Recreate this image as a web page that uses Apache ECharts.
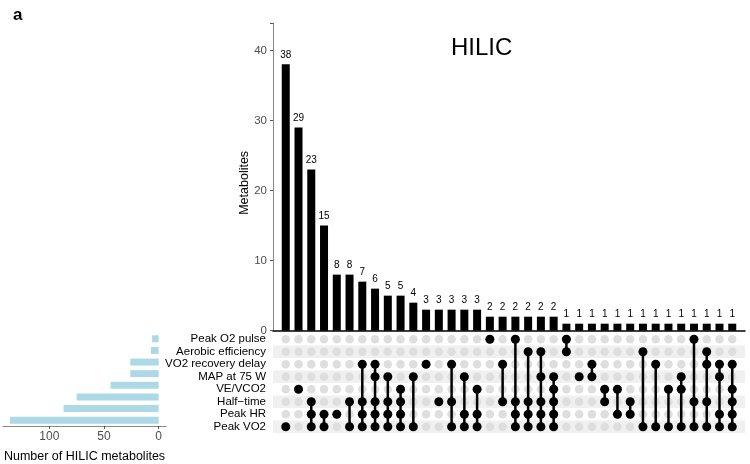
<!DOCTYPE html>
<html>
<head>
<meta charset="utf-8">
<script src="https://cdn.jsdelivr.net/npm/echarts@6/dist/echarts.min.js"></script>
<style>html,body{margin:0;padding:0;background:#fff;}#c{width:750px;height:464px;}</style>
</head>
<body>
<div id="c"></div>
<script>
// Sets (top to bottom in the matrix)
const sets = ['Peak O2 pulse', 'Aerobic efficiency', 'VO2 recovery delay', 'MAP at 75 W', 'VE/VCO2', 'Half\u2212time', 'Peak HR', 'Peak VO2'];
// Number of HILIC metabolites per set
const setSizes = [6, 7, 26, 26, 44, 75, 87, 136];
// Intersection sizes (bars, left to right)
const intersectionSizes = [38, 29, 23, 15, 8, 8, 7, 6, 5, 5, 4, 3, 3, 3, 3, 3, 2, 2, 2, 2, 2, 2, 1, 1, 1, 1, 1, 1, 1, 1, 1, 1, 1, 1, 1, 1];
// Members of each intersection (indices into sets)
const intersectionMembers = [
  [7], [4], [5, 6, 7], [6, 7], [6], [5, 7], [2, 5, 6, 7], [2, 3, 5, 6, 7], [3, 5, 6, 7], [4, 5, 6, 7],
  [3, 7], [2], [5], [2, 5, 7], [3, 6, 7], [4, 6, 7], [0], [2, 5], [0, 5, 6, 7], [1, 5, 6, 7],
  [1, 3, 5, 6, 7], [3, 4, 5, 6, 7], [0, 1], [3], [2, 3], [4, 5], [4, 6], [5, 6], [1, 7], [2, 7],
  [4, 7], [3, 4, 7], [0, 5, 7], [1, 2, 5, 7], [2, 3, 6, 7], [2, 4, 5, 6, 7]
];
const topTicks = [0, 10, 20, 30, 40];
const leftTicks = [0, 50, 100];

const FONT = 'Liberation Sans, Arial, sans-serif';
const n = intersectionSizes.length;

const barData = intersectionSizes.map((v, i) => [i + 1, v]);
const greyDots = [];
for (let i = 0; i < n; i++) for (let s = 0; s < sets.length; s++) greyDots.push([i + 1, s]);
const blackDots = [];
intersectionMembers.forEach((m, i) => m.forEach(s => blackDots.push([i + 1, s])));
const segs = [];
intersectionMembers.forEach((m, i) => {
  if (m.length > 1) segs.push([i + 1, Math.min(...m), Math.max(...m)]);
});

const chart = echarts.init(document.getElementById('c'), null, {renderer: 'canvas'});
chart.setOption({
  animation: false,
  textStyle: {fontFamily: FONT},
  title: [
    {text: 'a', left: 8, top: 2, textStyle: {fontSize: 17, fontWeight: 'bold', color: '#000', fontFamily: FONT}},
    {text: 'HILIC', left: 446, top: 31, textStyle: {fontSize: 24, fontWeight: 'normal', color: '#000', fontFamily: FONT}}
  ],
  grid: [
    {left: 273, right: 5, top: 23, bottom: 133.3},   // intersection bars
    {left: 273, right: 5, top: 333, bottom: 31},     // matrix
    {left: 3, right: 584, top: 333, bottom: 31}      // set size bars
  ],
  xAxis: [
    {gridIndex: 0, type: 'value', min: 0, max: 37, show: true,
      axisLine: {show: true, onZero: false, lineStyle: {color: '#000', width: 1.5}},
      axisTick: {show: false}, axisLabel: {show: false}, splitLine: {show: false}},
    {gridIndex: 1, type: 'value', min: 0, max: 37, show: false},
    {gridIndex: 2, type: 'value', min: -6.7, max: 142.4, inverse: true,
      axisLine: {show: true, onZero: false, lineStyle: {color: '#888', width: 1}},
      axisTick: {show: true, length: 3, lineStyle: {color: '#555'}, customValues: leftTicks},
      axisLabel: {show: true, color: '#4d4d4d', fontSize: 12, margin: 5, customValues: leftTicks},
      splitLine: {show: false},
      name: 'Number of HILIC metabolites', nameLocation: 'middle', nameGap: 24, nameMoveOverlap: false,
      nameTextStyle: {color: '#000', fontSize: 12.5, fontFamily: FONT}}
  ],
  yAxis: [
    {gridIndex: 0, type: 'value', min: 0, max: 43.9, interval: 10,
      axisLine: {show: true, lineStyle: {color: '#888', width: 1}},
      axisTick: {show: true, length: 3, lineStyle: {color: '#555'}},
      axisLabel: {color: '#4d4d4d', fontSize: 11.5, margin: 6, customValues: topTicks},
      splitLine: {show: false},
      name: 'Metabolites', nameLocation: 'middle', nameGap: 22, nameRotate: 90, nameMoveOverlap: false,
      nameTextStyle: {color: '#000', fontSize: 12.5, fontFamily: FONT, padding: [0, 12, 0, 0]}},
    {gridIndex: 1, type: 'category', data: sets, inverse: true,
      axisLine: {show: false}, axisTick: {show: false, interval: 0},
      axisLabel: {color: '#000', fontSize: 11.5, margin: 7, interval: 0},
      splitLine: {show: false, interval: 0},
      splitArea: {show: true, interval: 0, areaStyle: {color: ['rgba(255,255,255,0)', '#f0f0f0']}}},
    {gridIndex: 2, type: 'category', data: sets, inverse: true, show: false}
  ],
  series: [
    {type: 'bar', xAxisIndex: 0, yAxisIndex: 0, data: barData, barWidth: 8,
      itemStyle: {color: '#000'},
      label: {show: true, position: 'top', distance: 4, fontSize: 10, color: '#000', fontFamily: FONT}},
    {type: 'scatter', xAxisIndex: 1, yAxisIndex: 1, data: greyDots, symbolSize: 8.5,
      itemStyle: {color: '#dedede', opacity: 1}, z: 2, silent: true},
    {type: 'custom', xAxisIndex: 1, yAxisIndex: 1, data: segs, z: 3,
      encode: {x: 0, y: [1, 2]},
      renderItem: function (params, api) {
        const p1 = api.coord([api.value(0), api.value(1)]);
        const p2 = api.coord([api.value(0), api.value(2)]);
        return {type: 'line', shape: {x1: p1[0], y1: p1[1], x2: p2[0], y2: p2[1]},
          style: {stroke: '#000', lineWidth: 2.5}};
      }},
    {type: 'scatter', xAxisIndex: 1, yAxisIndex: 1, data: blackDots, symbolSize: 9,
      itemStyle: {color: '#000', opacity: 1}, z: 4},
    {type: 'bar', xAxisIndex: 2, yAxisIndex: 2, data: setSizes, barWidth: 7,
      itemStyle: {color: '#add8e6'}}
  ]
});
</script>
</body>
</html>
